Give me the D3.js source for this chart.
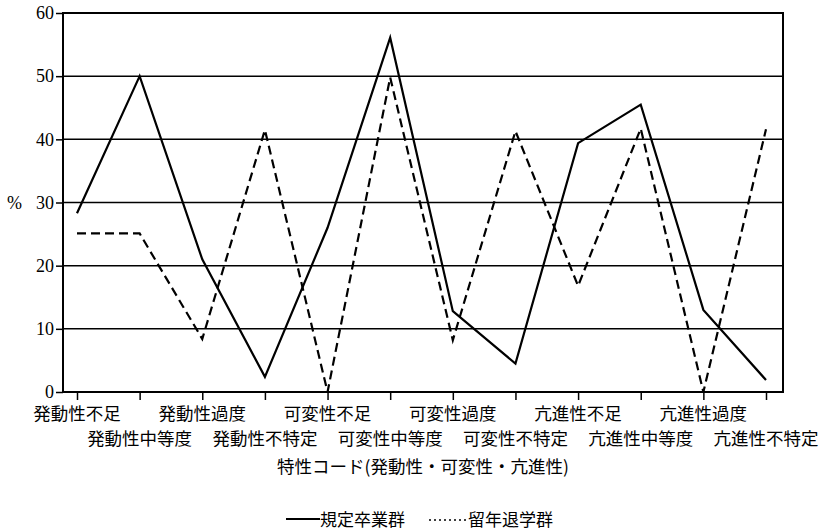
<!DOCTYPE html>
<html>
<head>
<meta charset="utf-8">
<script src="https://cdn.jsdelivr.net/npm/d3@7"></script>
<style>
  body { margin: 0; background: #fff; }
</style>
</head>
<body>
<div id="container"></div>
<script>
var categories = ["発動性不足", "発動性中等度", "発動性過度", "発動性不特定",
  "可変性不足", "可変性中等度", "可変性過度", "可変性不特定",
  "亢進性不足", "亢進性中等度", "亢進性過度", "亢進性不特定"];
var regular = [28.3, 50, 21, 2.4, 26, 56.1, 12.8, 4.5, 39.4, 45.5, 13, 1.9];
var dropout = [25.1, 25.1, 8.4, 41.5, 0, 49.8, 8.2, 41.3, 16.8, 41.7, 0, 41.6];
var yTicks = [0, 10, 20, 30, 40, 50, 60];

var width = 824;
var height = 530;
var serif = "'Liberation Serif', 'DejaVu Serif', serif";
var jpFont = "'Noto Sans CJK JP', sans-serif";

var svg = d3.select("#container")
  .append("svg")
  .attr("width", width)
  .attr("height", height);

// note: "top" is reserved on window, so use plot* names
var plotLeft = 63, plotRight = 783, plotTop = 13, plotBottom = 392;

var x = d3.scalePoint()
  .domain(categories)
  .range([77, 766]);

var y = d3.scaleLinear()
  .domain([0, 60])
  .range([plotBottom, plotTop]);

// gridlines
svg.append("g")
  .selectAll("line")
  .data(yTicks.slice(1, -1))
  .enter().append("line")
  .attr("x1", plotLeft).attr("x2", plotRight)
  .attr("y1", function(d) { return y(d); })
  .attr("y2", function(d) { return y(d); })
  .attr("stroke", "#000")
  .attr("stroke-width", 1.5);

// frame
svg.append("rect")
  .attr("x", plotLeft).attr("y", plotTop)
  .attr("width", plotRight - plotLeft).attr("height", plotBottom - plotTop)
  .attr("fill", "none")
  .attr("stroke", "#000")
  .attr("stroke-width", 2);

// y axis
var yAxis = svg.append("g")
  .attr("transform", "translate(" + plotLeft + ",0)")
  .call(d3.axisLeft(y).tickValues(yTicks).tickSize(7).tickPadding(2));
yAxis.select(".domain").remove();
yAxis.selectAll("line").attr("stroke-width", 1.5);
yAxis.selectAll("text")
  .style("font-family", serif)
  .style("font-size", "18px")
  .attr("fill", "#000");

svg.append("text")
  .style("font-family", serif)
  .style("font-size", "18px")
  .attr("x", 7)
  .attr("y", y(30) + 6)
  .text("%");

// x axis
var xAxis = svg.append("g")
  .attr("transform", "translate(0," + plotBottom + ")")
  .call(d3.axisBottom(x).tickSize(8).tickFormat(""));
xAxis.select(".domain").remove();
xAxis.selectAll("line").attr("stroke-width", 1.5);

svg.append("g")
  .selectAll("text")
  .data(categories)
  .enter().append("text")
  .style("font-family", jpFont)
  .style("font-size", "17.5px")
  .attr("text-anchor", "middle")
  .attr("x", function(d) { return x(d); })
  .attr("y", function(d, i) { return i % 2 === 0 ? 420 : 445; })
  .text(function(d) { return d; });

svg.append("text")
  .style("font-family", jpFont)
  .style("font-size", "17.5px")
  .attr("text-anchor", "middle")
  .attr("x", (plotLeft + plotRight) / 2)
  .attr("y", 473)
  .text("特性コード(発動性・可変性・亢進性)");

// lines
var line = d3.line()
  .x(function(d, i) { return x(categories[i]); })
  .y(function(d) { return y(d); });

svg.append("path")
  .datum(dropout)
  .attr("d", line)
  .attr("fill", "none")
  .attr("stroke", "#000")
  .attr("stroke-width", 2.2)
  .attr("stroke-dasharray", "9,5");

svg.append("path")
  .datum(regular)
  .attr("d", line)
  .attr("fill", "none")
  .attr("stroke", "#000")
  .attr("stroke-width", 2.2);

// legend
var legend = svg.append("g")
  .style("font-family", jpFont)
  .style("font-size", "17px");
legend.append("line")
  .attr("x1", 286).attr("x2", 320)
  .attr("y1", 519).attr("y2", 519)
  .attr("stroke", "#000").attr("stroke-width", 2);
legend.append("text")
  .attr("x", 320).attr("y", 526)
  .text("規定卒業群");
legend.append("line")
  .attr("x1", 429).attr("x2", 467)
  .attr("y1", 520).attr("y2", 520)
  .attr("stroke", "#000").attr("stroke-width", 1.5)
  .attr("stroke-dasharray", "2,3");
legend.append("text")
  .attr("x", 468).attr("y", 526)
  .text("留年退学群");
</script>
</body>
</html>
